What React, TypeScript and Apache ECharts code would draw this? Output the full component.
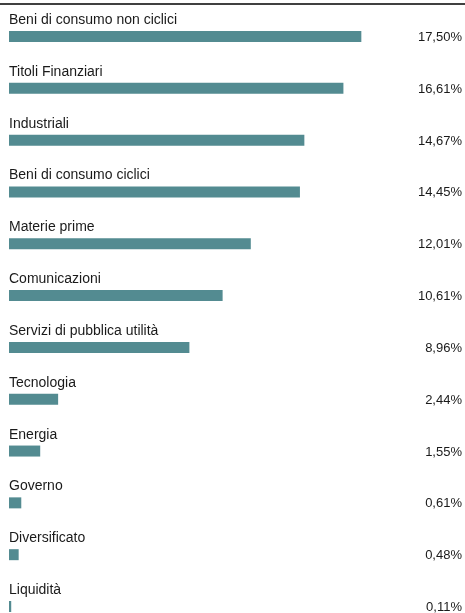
import React, { useEffect, useRef } from "react";
import * as echarts from "echarts";

const categories = [
  "Beni di consumo non ciclici",
  "Titoli Finanziari",
  "Industriali",
  "Beni di consumo ciclici",
  "Materie prime",
  "Comunicazioni",
  "Servizi di pubblica utilità",
  "Tecnologia",
  "Energia",
  "Governo",
  "Diversificato",
  "Liquidità",
];
const values = [17.5, 16.61, 14.67, 14.45, 12.01, 10.61, 8.96, 2.44, 1.55, 0.61, 0.48, 0.11];
const valueLabels = values.map((v) => v.toFixed(2).replace(".", ",") + "%");

const FONT = "'Liberation Sans', Arial, sans-serif";
const TEXT = "#1a1a1a";
const BAR = "#538b91";

export default function App() {
  const ref = useRef<HTMLDivElement>(null);
  useEffect(() => {
    if (!ref.current) return;
    const chart = echarts.init(ref.current, undefined, { renderer: "svg" });
    chart.setOption({
      animation: false,
      textStyle: { fontFamily: FONT },
      graphic: [
        {
          type: "line",
          shape: { x1: 0, y1: 4, x2: 465, y2: 4 },
          style: { stroke: "#000", lineWidth: 1.5 },
        },
      ],
      grid: { left: 9, top: 36.5, width: 454, height: 571.5, containLabel: false },
      xAxis: { type: "value", min: 0, max: 22.5, show: false },
      yAxis: [
        {
          type: "category",
          data: categories,
          inverse: true,
          boundaryGap: false,
          show: false,
        },
        {
          type: "category",
          data: valueLabels,
          inverse: true,
          boundaryGap: false,
          position: "right",
          axisLine: { show: false },
          axisTick: { show: false },
          splitLine: { show: false },
          axisLabel: {
            align: "right",
            margin: 0,
            color: TEXT,
            fontSize: 13,
            fontFamily: FONT,
          },
        },
      ],
      series: [
        {
          type: "bar",
          data: values,
          yAxisIndex: 0,
          barWidth: 11,
          itemStyle: { color: BAR },
          label: {
            show: true,
            position: [0, -12],
            align: "left",
            verticalAlign: "middle",
            formatter: (p: any) => categories[p.dataIndex],
            color: TEXT,
            fontSize: 14,
            fontFamily: FONT,
          },
        },
      ],
    });
    return () => chart.dispose();
  }, []);
  return (
    <div
      ref={ref}
      style={{ position: "fixed", left: 0, top: 0, width: 465, height: 613 }}
    />
  );
}
